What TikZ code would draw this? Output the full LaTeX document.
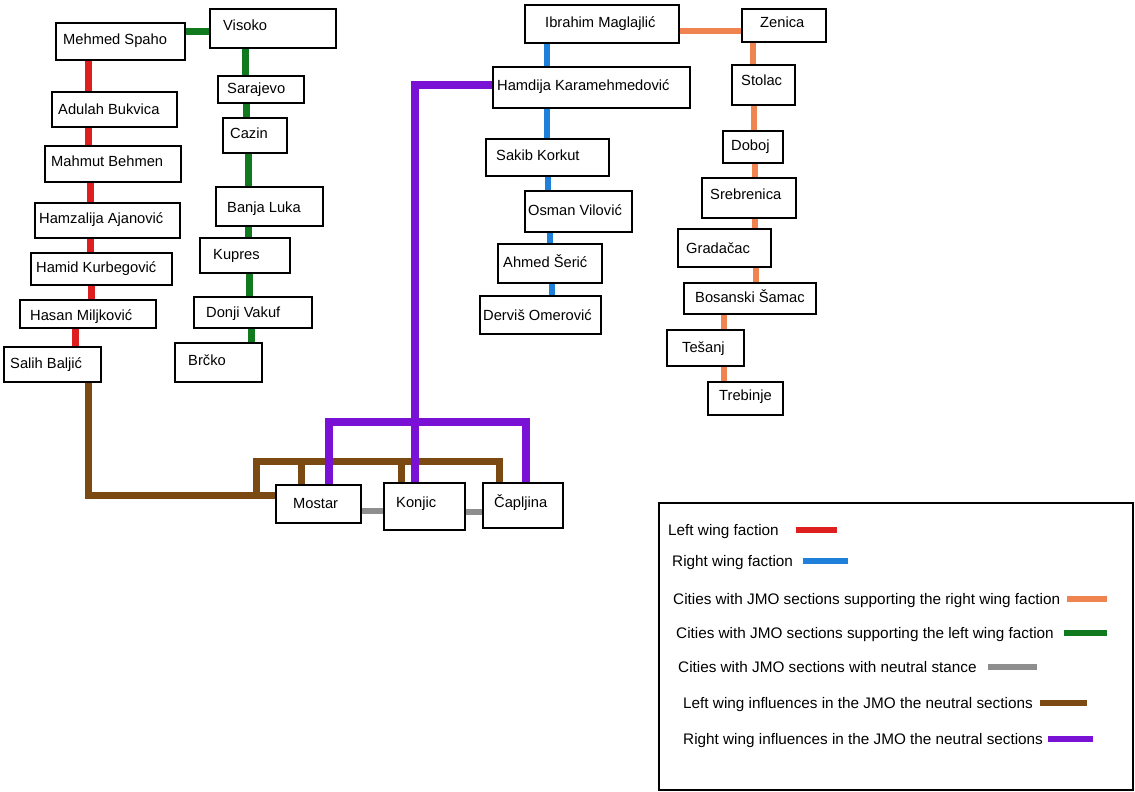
\documentclass[tikz,border=0pt]{standalone}
\usepackage{fontspec}
\setmainfont{Liberation Sans}
\usetikzlibrary{fit,backgrounds}
\definecolor{cred}{RGB}{221,31,31}
\definecolor{cgreen}{RGB}{18,122,30}
\definecolor{cblue}{RGB}{30,128,216}
\definecolor{corange}{RGB}{240,132,80}
\definecolor{cgray}{RGB}{142,142,142}
\definecolor{cbrown}{RGB}{123,74,18}
\definecolor{cpurple}{RGB}{122,18,214}
\newcommand\bx[8]{%
  \node[box, fit={(#2,#3) (#4,#5)}] (#1) {};
  \node[lbl] (#1-t) at (#6,#7) {#8};}
\begin{document}
\begin{tikzpicture}[x=1pt,y=-1pt,
  box/.style={draw=black, line width=1.2pt, fill=white, inner sep=0pt},
  lbl/.style={anchor=base west, inner sep=0pt, font=\fontsize{14.7}{17}\selectfont},
  lgl/.style={anchor=base west, inner sep=0pt, font=\fontsize{15.3}{17}\selectfont},
  conn/.style={line width=7pt},
  redl/.style={conn, cred},
  greenl/.style={conn, cgreen},
  bluel/.style={conn, cblue, line width=6.5pt},
  orangel/.style={conn, corange, line width=6.5pt},
  grayl/.style={conn, cgray, line width=6pt},
  brownl/.style={conn, cbrown},
  purplel/.style={conn, cpurple, line width=8pt},
  swatch/.style={line width=5.5pt}]
\useasboundingbox (0,0) rectangle (1135,792);

% left wing faction
\bx{spaho}{56}{23}{185}{60}{63}{45}{Mehmed Spaho}
\bx{bukvica}{52}{92}{177}{127}{58}{114}{Adulah Bukvica}
\bx{behmen}{45}{146}{181}{182}{51}{166}{Mahmut Behmen}
\bx{ajanovic}{35}{203}{180}{238}{39}{223}{Hamzalija Ajanović}
\bx{kurbegovic}{31}{253}{172}{285}{36}{272}{Hamid Kurbegović}
\bx{miljkovic}{20}{300}{156}{328}{30}{320}{Hasan Miljković}
\bx{baljic}{4}{347}{101}{382}{10}{368}{Salih Baljić}
% cities supporting left wing
\bx{visoko}{210}{9}{336}{48}{223}{31}{Visoko}
\bx{sarajevo}{218}{76}{304}{103}{227}{93}{Sarajevo}
\bx{cazin}{223}{118}{287}{153}{230}{138}{Cazin}
\bx{banja}{216}{187}{323}{226}{227}{212}{Banja Luka}
\bx{kupres}{200}{238}{290}{273}{213}{259}{Kupres}
\bx{donji}{194}{297}{312}{328}{206}{317}{Donji Vakuf}
\bx{brcko}{175}{343}{262}{382}{188}{365}{Brčko}
% neutral cities
\bx{mostar}{276}{485}{361}{523}{293}{508}{Mostar}
\bx{konjic}{384}{483}{465}{530}{396}{507}{Konjic}
\bx{capljina}{483}{483}{563}{528}{494}{507}{Čapljina}
% right wing faction
\bx{ibrahim}{525}{5}{679}{43}{545}{28}{Ibrahim Maglajlić}
\bx{hamdija}{493}{67}{690}{108}{497}{90}{Hamdija Karamehmedović}
\bx{sakib}{486}{139}{609}{176}{496}{160}{Sakib Korkut}
\bx{osman}{525}{191}{632}{232}{528}{215}{Osman Vilović}
\bx{seric}{498}{244}{602}{283}{503}{267}{Ahmed Šerić}
\bx{omerovic}{480}{296}{601}{334}{483}{320}{Derviš Omerović}
% cities supporting right wing
\bx{zenica}{742}{9}{826}{42}{760}{28}{Zenica}
\bx{stolac}{732}{65}{795}{105}{741}{85}{Stolac}
\bx{doboj}{723}{131}{783}{163}{731}{150}{Doboj}
\bx{srebrenica}{702}{178}{796}{218}{710}{199}{Srebrenica}
\bx{gradacac}{678}{229}{771}{267}{686}{253}{Gradačac}
\bx{samac}{684}{283}{816}{314}{695}{302}{Bosanski Šamac}
\bx{tesanj}{667}{330}{744}{366}{682}{352}{Tešanj}
\bx{trebinje}{708}{382}{783}{415}{719}{400}{Trebinje}

\begin{scope}[on background layer]
% red
\draw[redl] (spaho.south -| 88,0) -- (bukvica.north -| 88,0);
\draw[redl] (bukvica.south -| 88,0) -- (behmen.north -| 88,0);
\draw[redl] (behmen.south -| 90,0) -- (ajanovic.north -| 90,0);
\draw[redl] (ajanovic.south -| 90,0) -- (kurbegovic.north -| 90,0);
\draw[redl] (kurbegovic.south -| 91,0) -- (miljkovic.north -| 91,0);
\draw[redl] (miljkovic.south -| 75,0) -- (baljic.north -| 75,0);
% green
\draw[greenl] (spaho.east |- 0,32) -- (visoko.west |- 0,32);
\draw[greenl] (visoko.south -| 245,0) -- (sarajevo.north -| 245,0);
\draw[greenl] (sarajevo.south -| 246,0) -- (cazin.north -| 246,0);
\draw[greenl] (cazin.south -| 248,0) -- (banja.north -| 248,0);
\draw[greenl] (banja.south -| 248,0) -- (kupres.north -| 248,0);
\draw[greenl] (kupres.south -| 249,0) -- (donji.north -| 249,0);
\draw[greenl] (donji.south -| 251,0) -- (brcko.north -| 251,0);
% blue
\draw[bluel] (ibrahim.south -| 547,0) -- (hamdija.north -| 547,0);
\draw[bluel] (hamdija.south -| 547,0) -- (sakib.north -| 547,0);
\draw[bluel] (sakib.south -| 548,0) -- (osman.north -| 548,0);
\draw[bluel] (osman.south -| 550,0) -- (seric.north -| 550,0);
\draw[bluel] (seric.south -| 552,0) -- (omerovic.north -| 552,0);
% orange
\draw[orangel] (ibrahim.east |- 0,31) -- (zenica.west |- 0,31);
\draw[orangel] (zenica.south -| 753,0) -- (stolac.north -| 753,0);
\draw[orangel] (stolac.south -| 754,0) -- (doboj.north -| 754,0);
\draw[orangel] (doboj.south -| 755,0) -- (srebrenica.north -| 755,0);
\draw[orangel] (srebrenica.south -| 755,0) -- (gradacac.north -| 755,0);
\draw[orangel] (gradacac.south -| 756,0) -- (samac.north -| 756,0);
\draw[orangel] (samac.south -| 724,0) -- (tesanj.north -| 724,0);
\draw[orangel] (tesanj.south -| 724,0) -- (trebinje.north -| 724,0);
% gray
\draw[grayl] (mostar.east |- 0,511) -- (konjic.west |- 0,511);
\draw[grayl] (konjic.east |- 0,512) -- (capljina.west |- 0,512);
% brown
\coordinate (bj) at (256,495);
\coordinate (bm) at (301,461);
\coordinate (bk) at (401,461);
\draw[brownl] (baljic.south -| 88,0) |- (mostar.west |- 0,495);
\draw[brownl] (bj) -- (256,461) -| (capljina.north -| 499,0);
\draw[brownl] (bm) -- (mostar.north -| 301,0);
\draw[brownl] (bk) -- (konjic.north -| 401,0);
% purple
\draw[purplel] (hamdija.west |- 0,85) -| (konjic.north -| 415,0);
\draw[purplel] (mostar.north -| 329,0) -- (329,422) -| (capljina.north -| 526,0);
\end{scope}

% legend
\node[box, fit={(659,503) (1133,790)}] (legend) {};
\node[lgl] (lg1) at (668,535) {Left wing faction};
\node[lgl] (lg2) at (672,566) {Right wing faction};
\node[lgl] (lg3) at (673,604) {Cities with JMO sections supporting the right wing faction};
\node[lgl] (lg4) at (676,638) {Cities with JMO sections supporting the left wing faction};
\node[lgl] (lg5) at (678,672) {Cities with JMO sections with neutral stance};
\node[lgl] (lg6) at (683,708) {Left wing influences in the JMO the neutral sections};
\node[lgl] (lg7) at (683,744) {Right wing influences in the JMO the neutral sections};
\draw[swatch, cred] (796,530) -- (837,530);
\draw[swatch, cblue] (803,561) -- (848,561);
\draw[swatch, corange] (1067,599) -- (1107,599);
\draw[swatch, cgreen] (1064,633) -- (1107,633);
\draw[swatch, cgray] (988,667) -- (1037,667);
\draw[swatch, cbrown] (1040,703) -- (1087,703);
\draw[swatch, cpurple] (1048,739) -- (1093,739);
\end{tikzpicture}
\end{document}
